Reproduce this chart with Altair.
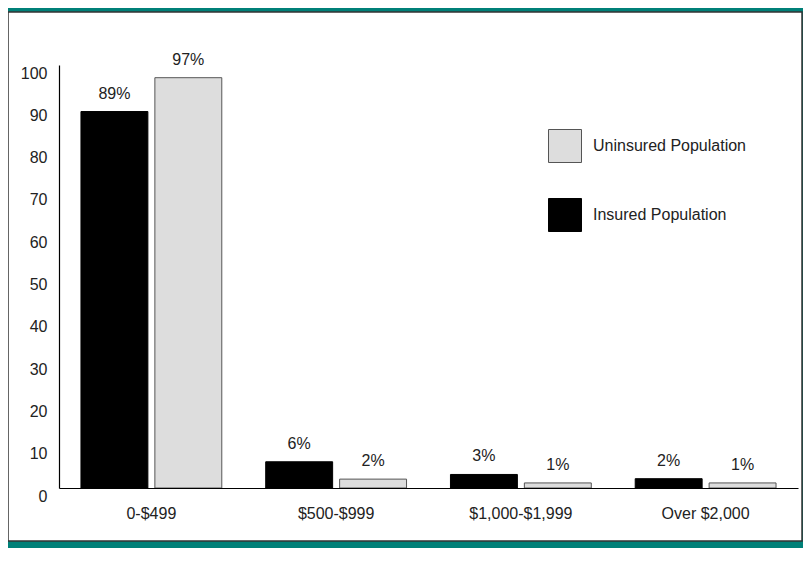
import altair as alt
import pandas as pd

categories = ["0-$499", "$500-$999", "$1,000-$1,999", "Over $2,000"]
series = ["Insured Population", "Uninsured Population"]
legend_order = ["Uninsured Population", "Insured Population"]
insured = [89, 6.2, 3.2, 2.2]
uninsured = [97, 2.1, 1.2, 1.2]
insured_labels = ["89%", "6%", "3%", "2%"]
uninsured_labels = ["97%", "2%", "1%", "1%"]
y_ticks = [0, 10, 20, 30, 40, 50, 60, 70, 80, 90, 100]

rows = []
for i, c in enumerate(categories):
    rows.append({"cat": c, "series": series[0], "value": insured[i], "label": insured_labels[i]})
    rows.append({"cat": c, "series": series[1], "value": uninsured[i], "label": uninsured_labels[i]})
df = pd.DataFrame(rows)

FONT = "Liberation Sans"
TXT = "#222222"

x = alt.X("cat:N", sort=categories,
          scale=alt.Scale(paddingInner=0, paddingOuter=0),
          axis=alt.Axis(title=None, labelAngle=0, ticks=False, labelPadding=17,
                        labelFontSize=16, labelFont=FONT, labelColor=TXT,
                        domainColor="#000000", domainWidth=1.2, zindex=1))
xo = alt.XOffset("series:N", sort=series,
                 scale=alt.Scale(domain=series, paddingInner=0.0946, paddingOuter=0.297))
y = alt.Y("value:Q", scale=alt.Scale(domain=[0, 100], nice=False),
          axis=alt.Axis(title=None, values=y_ticks, grid=False, ticks=False,
                        labelPadding=12, labelOffset=8, labelFontSize=16,
                        labelFont=FONT, labelColor=TXT,
                        domainColor="#000000", domainWidth=1.2, zindex=1))

legend = alt.Legend(title=None, orient="none", legendX=489, legendY=64,
                    symbolType="square", symbolSize=1089, rowPadding=31,
                    labelOffset=11, labelFontSize=16, labelFont=FONT,
                    labelColor=TXT, padding=0, symbolStrokeWidth=1)

fill = alt.Fill("series:N", scale=alt.Scale(domain=legend_order, range=["#dddddd", "#000000"]),
                legend=legend)
stroke = alt.Stroke("series:N", scale=alt.Scale(domain=legend_order, range=["#555555", "#000000"]),
                    legend=legend)

panel = alt.Chart(pd.DataFrame({"a": [0]})).mark_rect(
    fill="white", stroke="#333333", strokeWidth=1.5
).encode(x=alt.value(-51), x2=alt.value(743), y=alt.value(-53), y2=alt.value(476))

bars = alt.Chart(df).mark_bar(strokeWidth=1).encode(
    x=x, xOffset=xo, y=y, fill=fill, stroke=stroke
)

labels = alt.Chart(df).mark_text(dy=-18, fontSize=16, font=FONT, color=TXT).encode(
    x=alt.X("cat:N", sort=categories), xOffset=alt.XOffset("series:N", sort=series),
    y=alt.Y("value:Q"), text="label:N"
)

chart = alt.layer(panel, bars, labels).properties(
    width=739, height=423,
    autosize=alt.AutoSizeParams(type="none"),
    padding={"left": 51, "top": 57, "right": 5, "bottom": 60},
    background="#008078",
).configure_view(strokeWidth=0)

chart.save("out.html", embed_options={"renderer": "svg", "actions": False})
